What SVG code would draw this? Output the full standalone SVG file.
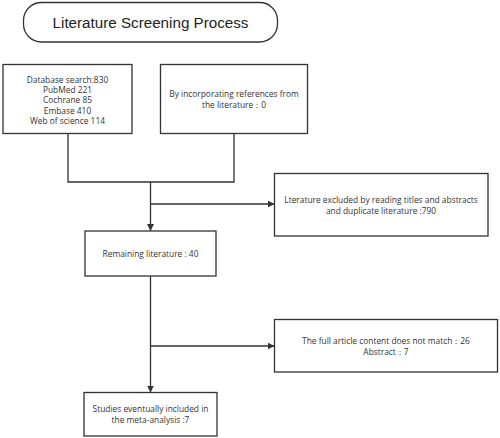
<svg xmlns="http://www.w3.org/2000/svg" width="500" height="438" viewBox="0 0 500 438">
<style>
.box{fill:#fff;stroke:#333;stroke-width:1.3}
.t{font-family:"Open Sans","Noto Sans",sans-serif;font-size:8.4px;fill:#333;text-anchor:middle}
.title{font-family:"Liberation Sans",Arial,sans-serif;font-size:15.2px;fill:#222;text-anchor:middle}
.c{fill:none;stroke:#333;stroke-width:1.3}
</style>
<defs>
<marker id="ah" viewBox="0 0 10 10" refX="10" refY="5" markerWidth="7" markerHeight="7" markerUnits="userSpaceOnUse" orient="auto">
<path d="M0,0 L10,5 L0,10 z" fill="#333"/>
</marker>
</defs>
<rect width="500" height="438" fill="#fff"/>
<g id="title">
<rect class="box" x="23.5" y="2.5" width="254" height="39.5" rx="18" ry="18"/>
<text class="title" x="150.5" y="27.5">Literature Screening Process</text>
</g>
<g id="database">
<rect class="box" x="3" y="64.5" width="129" height="69"/>
<text class="t" x="67.5" y="83">Database search:830</text>
<text class="t" x="67.5" y="93.2">PubMed 221</text>
<text class="t" x="67.5" y="103.4">Cochrane 85</text>
<text class="t" x="67.5" y="113.6">Embase 410</text>
<text class="t" x="67.5" y="123.8">Web of science 114</text>
</g>
<g id="references">
<rect class="box" x="160.5" y="64.5" width="147" height="69"/>
<text class="t" x="234" y="97.3">By incorporating references from</text>
<text class="t" x="234" y="108">the literature：0</text>
</g>
<g id="excluded1">
<rect class="box" x="274.5" y="173.5" width="213.5" height="62.5"/>
<text class="t" x="381" y="203">Lterature excluded by reading titles and abstracts</text>
<text class="t" x="381" y="213.5">and duplicate literature :790</text>
</g>
<g id="remaining">
<rect class="box" x="85" y="231" width="131" height="45"/>
<text class="t" x="150.5" y="257">Remaining literature : 40</text>
</g>
<g id="excluded2">
<rect class="box" x="274.5" y="319.5" width="223" height="52.5"/>
<text class="t" x="386" y="344">The full article content does not match：26</text>
<text class="t" x="386" y="354.5">Abstract：7</text>
</g>
<g id="included">
<rect class="box" x="84" y="392.5" width="133" height="43.5"/>
<text class="t" x="150.5" y="412">Studies eventually included in</text>
<text class="t" x="150.5" y="422.5">the meta-analysis :7</text>
</g>
<g id="connectors">
<path class="c" d="M68,133.5 V182 H234 V133.5"/>
<path class="c" d="M150.5,182 V231" marker-end="url(#ah)"/>
<path class="c" d="M150.5,204 H274.5" marker-end="url(#ah)"/>
<path class="c" d="M150.5,276 V392.5" marker-end="url(#ah)"/>
<path class="c" d="M150.5,346 H274.5" marker-end="url(#ah)"/>
</g>
</svg>
